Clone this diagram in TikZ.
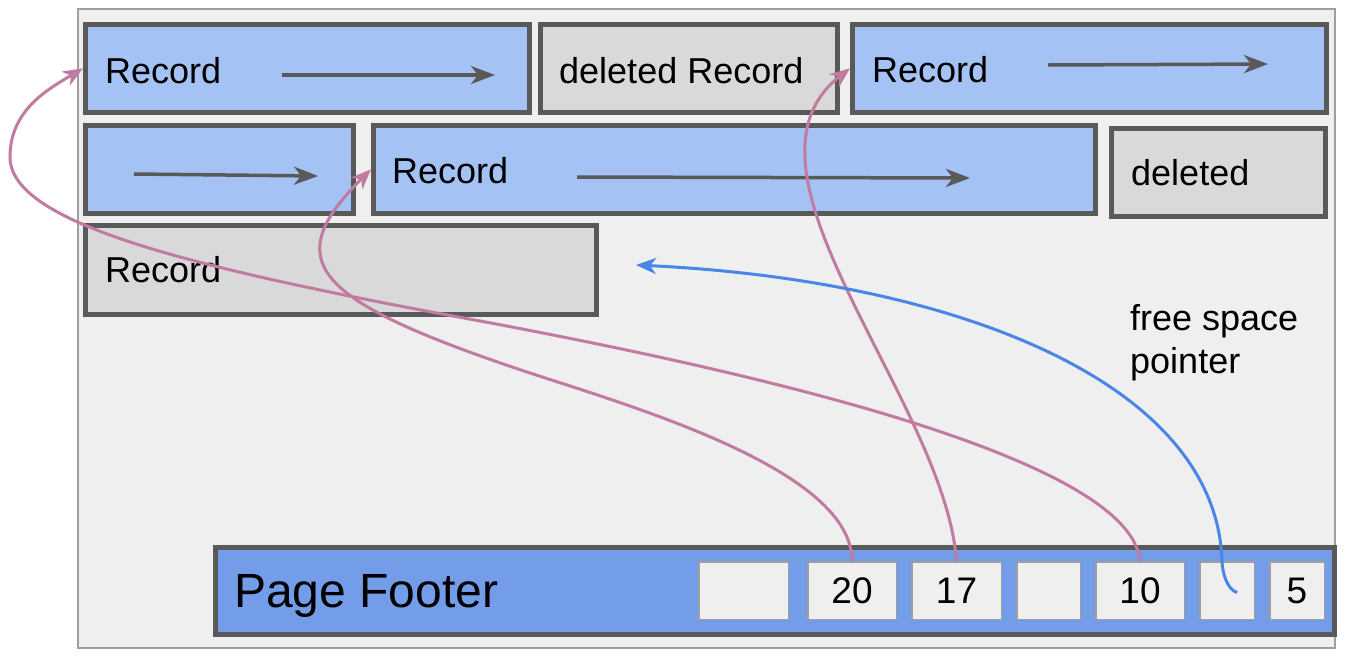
\documentclass[tikz,border=0pt]{standalone}
\usepackage{fontspec}
\setmainfont{Liberation Sans}
\usetikzlibrary{arrows.meta}
\usetikzlibrary{positioning}
\definecolor{recblue}{HTML}{A4C2F4}
\definecolor{delgray}{HTML}{D9D9D9}
\definecolor{pagebg}{HTML}{EFEFEF}
\definecolor{footblue}{HTML}{739DE8}
\definecolor{boxline}{HTML}{595959}
\definecolor{framegray}{HTML}{9E9E9E}
\definecolor{slotpink}{HTML}{C27BA0}
\definecolor{freeblue}{HTML}{4A86E8}

\tikzset{
	rec/.style={draw=boxline, line width=4.5pt, fill=recblue, anchor=north west, inner sep=0pt},
	del/.style={rec, fill=delgray},
	slot/.style={draw=framegray, line width=1.5pt, fill=pagebg, minimum height=57.5pt, inner sep=0pt, font=\fontsize{37}{40}\selectfont},
	txt/.style={anchor=base west, inner sep=0pt, font=\fontsize{36}{43}\selectfont},
	inner/.style={draw=boxline, line width=3.5pt, -{Stealth[length=24pt,width=18pt,inset=7pt]}},
	ptr/.style={draw=slotpink, line width=3pt, -{Stealth[length=20pt,width=16pt,inset=6pt]}},
	freeptr/.style={draw=freeblue, line width=3pt, -{Stealth[length=20pt,width=16pt,inset=6pt]}}
}

\begin{document}
\begin{tikzpicture}[x=1pt,y=-1pt]
			\useasboundingbox (0,0) rectangle (1352,662);
			% page
			\node[draw=framegray, line width=2pt, fill=pagebg, anchor=north west, minimum width=1257, minimum height=639] (page) at (77,8) {};
			
			% records, first row
			\node[rec, minimum width=444, minimum height=88] (rA) at (83,22) {};
			\node[del, minimum width=297, minimum height=88] (rB) at (538,22) {};
			\node[rec, minimum width=474, minimum height=88] (rC) at (850,22) {};
			% second row
			\node[rec, minimum width=268, minimum height=88] (rD) at (83,123) {};
			\node[rec, minimum width=722, minimum height=88] (rE) at (371,123) {};
			\node[del, minimum width=214, minimum height=88] (rF) at (1109,126) {};
			% third row
			\node[del, minimum width=511, minimum height=89] (rG) at (83,223) {};
			
			% record texts
			\node[txt] (tA) at (105,83) {Record};
			\node[txt] (tB) at (559,83) {deleted Record};
			\node[txt] (tC) at (872,82) {Record};
			\node[txt] (tE) at (392,183) {Record};
			\node[txt] (tF) at (1131,185) {deleted};
			\node[txt] (tG) at (105,282) {Record};
			\node[txt, anchor=north west, align=left] (tFree) at (1130,304) {free space\\pointer};
			
			% arrows inside the records
			\coordinate (aA1) at (282,75);
			\coordinate (aA2) at (495,75);
			\coordinate (aC1) at (1048,65);
			\coordinate (aC2) at (1268,64);
			\coordinate (aD1) at (134,174);
			\coordinate (aD2) at (318,176);
			\coordinate (aE1) at (577,177);
			\coordinate (aE2) at (970,178);
			\draw[inner] (aA1) -- (aA2);
			\draw[inner] (aC1) -- (aC2);
			\draw[inner] (aD1) -- (aD2);
			\draw[inner] (aE1) -- (aE2);
			
			% footer with the slots
			\node[rec, fill=footblue, line width=5pt, minimum width=1119, minimum height=87] (foot) at (213,545) {};
			\node[anchor=base west, inner sep=0pt, font=\fontsize{48}{52}\selectfont] (tFoot) at (234,607) {Page Footer};
			\node[slot, anchor=north west, minimum width=89.5] (s1) at (698,561) {};
			\node[slot, minimum width=88.5, right=18pt of s1] (s2) {20};
			\node[slot, minimum width=89.5, right=14pt of s2] (s3) {17};
			\node[slot, minimum width=63.5, right=14pt of s3] (s4) {};
			\node[slot, minimum width=88.5, right=14pt of s4] (s5) {10};
			\node[slot, minimum width=54.5, right=14pt of s5] (s6) {};
			\node[slot, minimum width=54.5, right=14pt of s6] (s7) {5};
			
			% slot pointers
			\coordinate (w20) at (530,373);
			\coordinate (w10a) at (491,323);
			\coordinate (w10b) at (10,157);
			\coordinate (hook) at (1222,560);
			\coordinate (freeSpace) at (636,265);
			\draw[ptr] (s2.north) .. controls +(0,-90) and +(110,36) .. (w20) .. controls +(-220,-73) and +(-92,92) .. (rE.west);
			\draw[ptr] (s3.north) .. controls +(-12,-161) and +(-130,102) .. (rC.west);
			\draw[ptr] (s5.north) .. controls +(-10,-111) and +(200,38) .. (w10a) .. controls +(-291,-53) and +(0,68) .. (w10b) .. controls +(0,-47) and +(-35,21) .. (rA.west);
			\draw[freeptr] ([xshift=10pt,yshift=-2pt]s6.center) .. controls +(-10,-3) and +(0,12) .. (hook) .. controls +(-7,-180) and +(314,15) .. (freeSpace);
		\end{tikzpicture}
\end{document}
